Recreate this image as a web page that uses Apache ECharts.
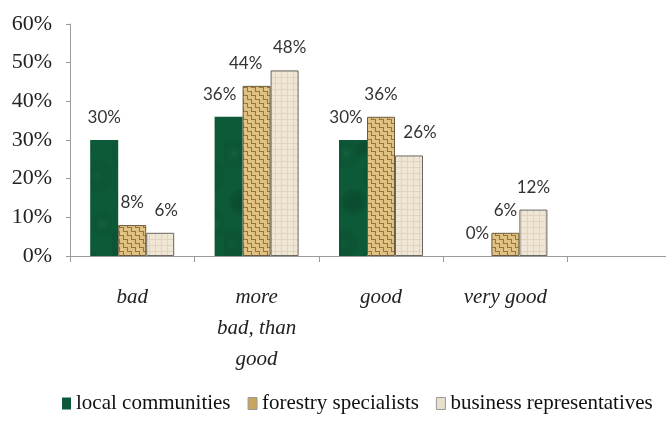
<!DOCTYPE html>
<html>
<head>
<meta charset="utf-8">
<script src="https://cdn.jsdelivr.net/npm/echarts@6/dist/echarts.min.js"></script>
<style>
  html, body { margin: 0; padding: 0; background: #ffffff; }
  #chart { width: 666px; height: 421px; }
</style>
</head>
<body>
<div id="chart"></div>
<script>
// Assessment categories (the last slot is left empty on purpose)
const categories = ['bad', 'more\nbad, than\ngood', 'good', 'very good', ''];

// Shares of respondents, in percent
const localCommunities = [30, 36, 30, 0, null];
const forestrySpecialists = [8, 44, 36, 6, null];
const businessRepresentatives = [6, 48, 26, 12, null];

const seriesNames = ['local communities', 'forestry specialists', 'business representatives'];
const yTicks = [0, 10, 20, 30, 40, 50, 60];

// ---- fill textures -------------------------------------------------------
function makeCanvas(w, h) {
  const c = document.createElement('canvas');
  c.width = w; c.height = h;
  return c;
}

// mottled dark-green "marble"
function greenTexture() {
  const c = makeCanvas(56, 140);
  const g = c.getContext('2d');
  g.fillStyle = '#0c5a38';
  g.fillRect(0, 0, 56, 140);
  const blobs = [
    [10, 14, 16, 'rgba(35,120,80,0.30)'],
    [42, 36, 18, 'rgba(30,110,72,0.28)'],
    [18, 62, 15, 'rgba(6,52,32,0.35)'],
    [46, 84, 14, 'rgba(40,130,86,0.25)'],
    [8, 104, 16, 'rgba(22,98,64,0.30)'],
    [34, 126, 15, 'rgba(6,48,29,0.32)'],
    [28, 8, 10, 'rgba(6,46,28,0.30)']
  ];
  blobs.forEach(([x, y, r, col]) => {
    const grd = g.createRadialGradient(x, y, 0, x, y, r);
    grd.addColorStop(0, col);
    grd.addColorStop(1, 'rgba(0,0,0,0)');
    g.fillStyle = grd;
    g.fillRect(x - r, y - r, r * 2, r * 2);
  });
  return c;
}

// tan basket weave
function weaveTexture() {
  const s = 4;
  const c = makeCanvas(s * 4, s * 4);
  const g = c.getContext('2d');
  g.fillStyle = '#dfc184';
  g.fillRect(0, 0, s * 4, s * 4);
  g.fillStyle = '#9a7636';
  for (let i = 0; i < 4; i++) {
    for (let j = 0; j < 4; j++) {
      if ((i + j) % 2 === 0) {
        g.fillRect(i * s, j * s + s - 1, s, 1);   // horizontal strand edge
      } else {
        g.fillRect(i * s + s - 1, j * s, 1, s);   // vertical strand edge
      }
    }
  }
  g.fillStyle = 'rgba(245,222,160,0.7)';
  g.fillRect(1, 1, 2, 1);
  g.fillRect(9, 9, 2, 1);
  return c;
}

// pale canvas cloth
function clothTexture() {
  const c = makeCanvas(6, 6);
  const g = c.getContext('2d');
  g.fillStyle = '#efe6d6';
  g.fillRect(0, 0, 6, 6);
  g.fillStyle = '#e0d4be';
  g.fillRect(0, 5, 6, 1);
  g.fillRect(5, 0, 1, 6);
  return c;
}

const fills = [
  { image: greenTexture(), repeat: 'repeat' },
  { image: weaveTexture(), repeat: 'repeat' },
  { image: clothTexture(), repeat: 'repeat' }
];
const legendFills = ['#0b5a37', '#c9a560', '#e9dfcd'];
const borders = ['#0b5a37', '#6b5a40', '#6a6660'];

// small horizontal nudges for value labels that sit beside their bar
const labelShift = {
  '0-1': -9,
  '1-1': -11,
  '2-1': 5,
  '0-2': -7,
  '2-2': 11,
  '2-0': 6
};

const valueFont = { fontFamily: 'Lato', fontSize: 17, color: '#333333' };

function buildSeries(values, idx) {
  return {
    name: seriesNames[idx],
    type: 'bar',
    barWidth: 28,
    barGap: '0%',
    data: values.map((v, ci) => {
      const shift = labelShift[idx + '-' + ci] || 0;
      return { value: v, label: { offset: [shift, 0] } };
    }),
    itemStyle: {
      color: fills[idx],
      borderColor: borders[idx],
      borderWidth: idx === 0 ? 0 : 1
    },
    label: {
      show: true,
      position: 'top',
      distance: 14,
      formatter: p => (p.value == null ? '' : p.value + '%'),
      ...valueFont
    }
  };
}

const chart = echarts.init(document.getElementById('chart'), null, { renderer: 'canvas' });

chart.setOption({
  animation: false,
  backgroundColor: '#ffffff',
  // the plot area runs past the right edge: the fifth slot is only partly visible
  grid: {
    left: 70, width: 622, top: 24, height: 232,
    containLabel: false,
    outerBoundsMode: 'none'
  },
  legend: {
    bottom: 2,
    left: 57,
    itemGap: 17,
    itemWidth: 9,
    itemHeight: 12,
    icon: 'rect',
    textStyle: { fontFamily: 'Liberation Serif', fontSize: 21, color: '#111111' },
    data: seriesNames.map((n, i) => ({
      name: n,
      itemStyle: { color: legendFills[i], borderColor: i === 0 ? legendFills[0] : '#999999', borderWidth: i === 0 ? 0 : 1 }
    }))
  },
  xAxis: {
    type: 'category',
    data: categories,
    axisLine: { lineStyle: { color: '#9a9a9a', width: 1 } },
    axisTick: { show: true, length: 6, lineStyle: { color: '#9a9a9a' } },
    axisLabel: {
      interval: 0,
      margin: 26,
      fontFamily: 'Liberation Serif',
      fontStyle: 'italic',
      fontSize: 21,
      lineHeight: 31,
      color: '#222222'
    }
  },
  yAxis: {
    type: 'value',
    min: yTicks[0],
    max: yTicks[yTicks.length - 1],
    interval: 10,
    axisLine: { show: true, lineStyle: { color: '#9a9a9a', width: 1 } },
    axisTick: { show: true, length: 4, lineStyle: { color: '#9a9a9a' } },
    splitLine: { show: false },
    axisLabel: {
      margin: 18,
      formatter: v => v + '%',
      fontFamily: 'Liberation Serif',
      fontSize: 22,
      color: '#222222'
    }
  },
  series: [
    buildSeries(localCommunities, 0),
    buildSeries(forestrySpecialists, 1),
    buildSeries(businessRepresentatives, 2)
  ]
});
</script>
</body>
</html>
